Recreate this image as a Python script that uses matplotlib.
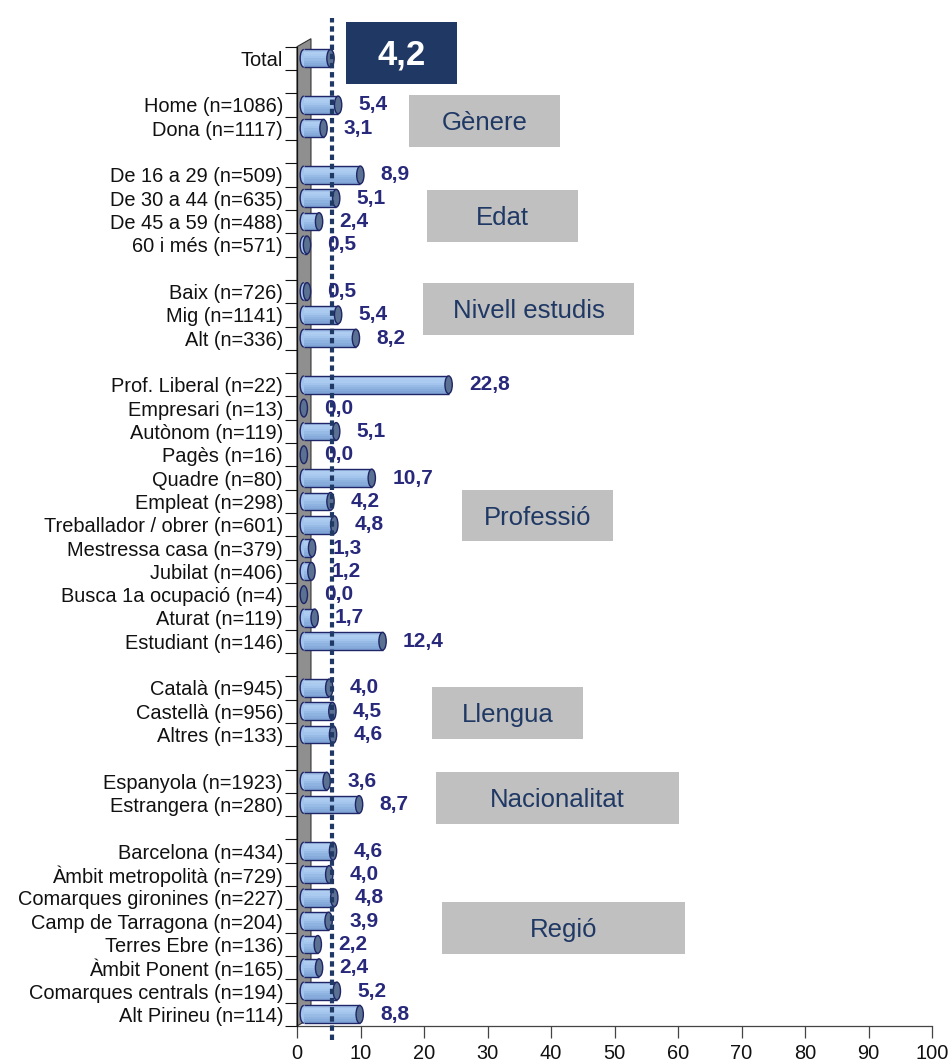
import matplotlib
matplotlib.use("Agg")
import matplotlib.pyplot as plt
from matplotlib.patches import Rectangle, Ellipse, Arc, Polygon
from matplotlib.transforms import blended_transform_factory

plt.rcParams['font.family'] = ['Liberation Sans', 'DejaVu Sans']

# ---------------- data ----------------
total_label = "Total"
total_value = 4.2

genere_labels = ["Home (n=1086)", "Dona (n=1117)"]
genere_values = [5.4, 3.1]

edat_labels = ["De 16 a 29 (n=509)", "De 30 a 44 (n=635)", "De 45 a 59 (n=488)", "60 i més (n=571)"]
edat_values = [8.9, 5.1, 2.4, 0.5]

estudis_labels = ["Baix (n=726)", "Mig (n=1141)", "Alt (n=336)"]
estudis_values = [0.5, 5.4, 8.2]

professio_labels = ["Prof. Liberal (n=22)", "Empresari (n=13)", "Autònom (n=119)", "Pagès (n=16)",
                    "Quadre (n=80)", "Empleat (n=298)", "Treballador / obrer (n=601)",
                    "Mestressa casa (n=379)", "Jubilat (n=406)", "Busca 1a ocupació (n=4)",
                    "Aturat (n=119)", "Estudiant (n=146)"]
professio_values = [22.8, 0.0, 5.1, 0.0, 10.7, 4.2, 4.8, 1.3, 1.2, 0.0, 1.7, 12.4]

llengua_labels = ["Català (n=945)", "Castellà (n=956)", "Altres (n=133)"]
llengua_values = [4.0, 4.5, 4.6]

nacionalitat_labels = ["Espanyola (n=1923)", "Estrangera (n=280)"]
nacionalitat_values = [3.6, 8.7]

regio_labels = ["Barcelona (n=434)", "Àmbit metropolità (n=729)", "Comarques gironines (n=227)",
                "Camp de Tarragona (n=204)", "Terres Ebre (n=136)", "Àmbit Ponent (n=165)",
                "Comarques centrals (n=194)", "Alt Pirineu (n=114)"]
regio_values = [4.6, 4.0, 4.8, 3.9, 2.2, 2.4, 5.2, 8.8]

group_titles = ["Gènere", "Edat", "Nivell estudis", "Professió", "Llengua", "Nacionalitat", "Regió"]

x_ticks = [0, 10, 20, 30, 40, 50, 60, 70, 80, 90, 100]

# ---------------- build rows (blank row between groups) ----------------
groups = [([total_label], [total_value]),
          (genere_labels, genere_values),
          (edat_labels, edat_values),
          (estudis_labels, estudis_values),
          (professio_labels, professio_values),
          (llengua_labels, llengua_values),
          (nacionalitat_labels, nacionalitat_values),
          (regio_labels, regio_values)]
labels, values = [], []
for gi, (lab, val) in enumerate(groups):
    if gi > 0:
        labels.append(None)
        values.append(None)
    labels.extend(lab)
    values.extend(val)
n_rows = len(labels)

# ---------------- style ----------------
W, H = 950, 1062
STRIPES = ['#A2C2EB', '#AFCDF1', '#ABCAEF', '#A3C4EC', '#98BBE6', '#8EB3E1', '#87ACDB', '#7FA4D5']
BODY = '#A3C4EC'
CAP = '#5A7191'
EDGE = '#1F2566'
LABEL_C = '#28297A'
NAVY = '#1F3864'
BOX_GRAY = '#C0C0C0'
BAR_H = 0.76
ELL_W = 1.15
BAR_START = 0.5
DEPTH = 1.35
LW = 1.0

fig = plt.figure(figsize=(W / 100, H / 100), dpi=100)
ax = fig.add_axes([297 / W, 36 / H, 635 / W, 979.3 / H])
ax.set_xlim(0, 100)
ax.set_ylim(n_rows - 0.5, -0.5)

for s in ['top', 'right']:
    ax.spines[s].set_visible(False)
ax.spines['left'].set_color('#111111')
ax.spines['left'].set_linewidth(0.9)
ax.spines['bottom'].set_color('#444444')
ax.spines['bottom'].set_linewidth(0.9)
ax.spines['bottom'].set_zorder(1.8)

ax.set_xticks(x_ticks)
ax.tick_params(axis='x', length=8.6, width=0.9, color='#444444', labelsize=14.4,
               labelcolor='#111111', pad=4.5)

rows = [i for i, l in enumerate(labels) if l is not None]
ax.set_yticks(rows)
ax.set_yticklabels([labels[i] for i in rows])
ax.tick_params(axis='y', which='major', length=0, pad=10, labelsize=14.4, labelcolor='#111111')
ax.set_yticks([i - 0.5 for i in range(n_rows + 1)], minor=True)
ax.tick_params(axis='y', which='minor', length=8.6, width=0.8, color='#111111')

# ---------------- 3D wall ----------------
wall_w = 2.2
rise = 8 / 23.3
wall = Polygon([(0, n_rows - 0.5), (0, -0.5), (wall_w, -0.5 - rise), (wall_w, n_rows - 0.5 - rise)],
               closed=True, fc='#8F8F8F', ec='#333333', lw=0.8, zorder=1.5, clip_on=False)
ax.add_patch(wall)

# ---------------- cylinders ----------------
def cylinder(y, v):
    h = BAR_H
    xl = BAR_START + ELL_W / 2
    xr = xl + v
    if v > 0:
        ax.add_patch(Ellipse((xl, y), ELL_W, h, fc=BODY, ec='none', zorder=3))
        n = len(STRIPES)
        for k, c in enumerate(STRIPES):
            ax.add_patch(Rectangle((xl, y - h / 2 + k * h / n), v, h / n * 1.02, fc=c, ec='none',
                                   zorder=3.05))
        ax.add_patch(Arc((xl, y), ELL_W, h, theta1=90, theta2=270, color=EDGE, lw=LW, zorder=3.2))
        ax.plot([xl, xr], [y - h / 2, y - h / 2], color=EDGE, lw=LW, zorder=3.2, solid_capstyle='butt')
        ax.plot([xl, xr], [y + h / 2, y + h / 2], color=EDGE, lw=LW, zorder=3.2, solid_capstyle='butt')
    ax.add_patch(Ellipse((xr, y), ELL_W, h, fc=CAP, ec=EDGE, lw=LW, zorder=3.3))

for i, v in enumerate(values):
    if v is None:
        continue
    cylinder(i, v)
    if i > 0:
        ax.text(v + 4.3, i, f"{v:.1f}".replace('.', ','), ha='left', va='center',
                fontsize=15, fontweight='bold', color=LABEL_C, zorder=7)

# ---------------- reference dotted line ----------------
trans = blended_transform_factory(ax.transData, ax.transAxes)
ax.plot([total_value + DEPTH] * 2, [-0.0143, 1.029], transform=trans, color=NAVY, lw=3.0,
        linestyle=(0, (1.3, 0.9)), dash_capstyle='butt', zorder=6, clip_on=False)

# ---------------- annotation boxes ----------------
def fig_box(x0, y0, x1, y1, fc, text, tc, size, weight='normal'):
    r = Rectangle((x0 / W, 1 - y1 / H), (x1 - x0) / W, (y1 - y0) / H, transform=fig.transFigure,
                  fc=fc, ec='none', zorder=5)
    fig.add_artist(r)
    fig.text((x0 + x1) / 2 / W, 1 - (y0 + y1) / 2 / H - 0.002, text, ha='center', va='center',
             fontsize=size, color=tc, fontweight=weight, zorder=6)

fig_box(346, 22, 457, 84, NAVY, f"{total_value:.1f}".replace('.', ','), 'white', 25, 'bold')
box_px = [(409, 95, 560, 147), (427, 190, 578, 242), (423, 283, 634, 335), (462, 490, 613, 541),
          (432, 687, 583, 739), (436, 772, 679, 824), (442, 902, 685, 954)]
for (x0, y0, x1, y1), t in zip(box_px, group_titles):
    fig_box(x0, y0, x1, y1, BOX_GRAY, t, NAVY, 18.5)

fig.savefig('out.png', dpi=100)
